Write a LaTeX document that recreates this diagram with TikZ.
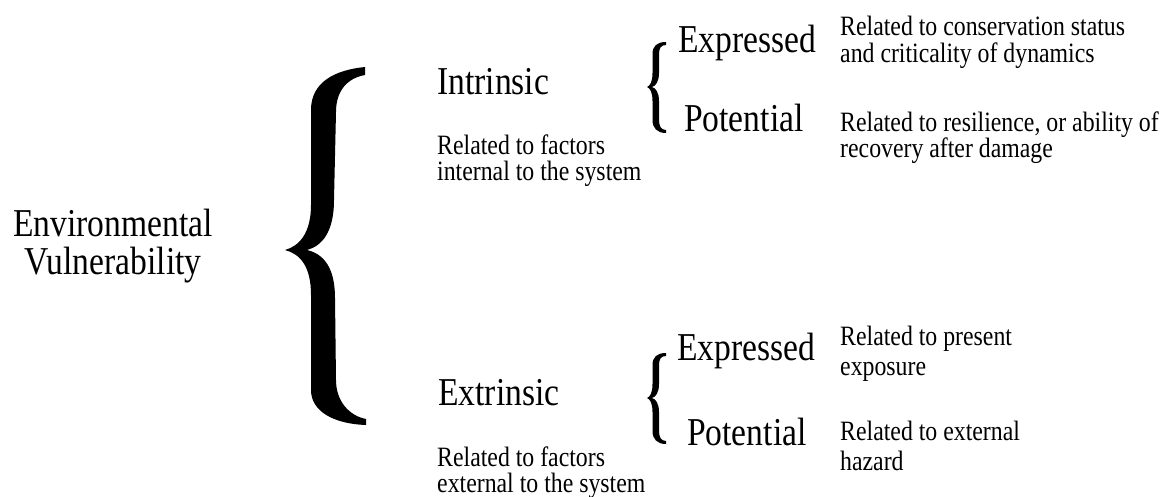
\documentclass[tikz,border=0pt]{standalone}
\usepackage{fontspec}
\setmainfont{Liberation Serif}[FakeStretch=0.85]
\usetikzlibrary{positioning}

\tikzset{
  big/.style={font=\fontsize{39.5}{38}\selectfont, inner sep=0pt, anchor=base west},
  desc/.style={font=\fontsize{28}{26}\selectfont, inner sep=0pt, anchor=base west, align=left},
  bracefill/.style={fill=black},
  smallbrace/.pic={
    \fill[bracefill] (19,-45) .. controls (10,-45) and (5.5,-41) .. (5.5,-33)
      -- (5.5,-14) .. controls (5.5,-5) and (3,-1) .. (0,0)
      .. controls (3,1) and (5.5,5) .. (5.5,14)
      -- (5.5,33) .. controls (5.5,41) and (10,46) .. (19,46)
      -- (19,43) .. controls (14,43) and (12,39) .. (12,33)
      -- (12,14) .. controls (12,6) and (9,1) .. (5,0)
      .. controls (9,-1) and (12,-6) .. (12,-14)
      -- (12,-33) .. controls (12,-39) and (14,-42) .. (19,-42) -- cycle;
  }
}

\begin{document}
\begin{tikzpicture}[x=1pt,y=-1pt]
   \useasboundingbox (0,0) rectangle (1163,497);

   % main label (base = last line)
   \node[font=\fontsize{39.5}{38}\selectfont, inner sep=0pt, align=center, anchor=base]
      (env) at (113,275) {Environmental\\Vulnerability};

   % big brace
   \fill[bracefill] (365,67) .. controls (335,70) and (311,82) .. (311,110)
      -- (311,205) .. controls (311,232) and (300,246) .. (285,250)
      .. controls (300,254) and (311,266) .. (311,295)
      -- (311,390) .. controls (311,412) and (335,424) .. (366,425)
      -- (366,419) .. controls (350,416) and (336,402) .. (336,380)
      -- (335,298) .. controls (335,268) and (324,254) .. (307,250)
      .. controls (322,246) and (334,232) .. (334,200)
      -- (336,112) .. controls (336,90) and (348,78) .. (365,75) -- cycle;

   % intrinsic branch
   \node[big] (intr) at (437,95) {Intrinsic};
   \node[desc] (intrdesc) at (437,181) {Related to factors\\internal to the system};
   \pic at (647,87) {smallbrace};
   \node[big] (intrexp) at (678,53) {Expressed};
   \node[big] (intrpot) at (684,132) {Potential};
   \node[desc, font=\fontsize{28}{27}\selectfont] (intrexpdesc) at (840,63)
      {Related to conservation status\\and criticality of dynamics};
   \node[desc] (intrpotdesc) at (840,158)
      {Related to resilience, or ability of\\recovery after damage};

   % extrinsic branch
   \node[big] (extr) at (438,405) {Extrinsic};
   \node[desc] (extrdesc) at (437,492)
      {Related to factors\\external to the system};
   \pic at (647,398) {smallbrace};
   \node[big] (extrexp) at (677,360) {Expressed};
   \node[big] (extrpot) at (687,445) {Potential};
   \node[desc, font=\fontsize{28}{30}\selectfont] (extrexpdesc) at (840,375)
      {Related to present\\exposure};
   \node[desc, font=\fontsize{28}{30}\selectfont] (extrpotdesc) at (840,470)
      {Related to external\\hazard};
\end{tikzpicture}
\end{document}
